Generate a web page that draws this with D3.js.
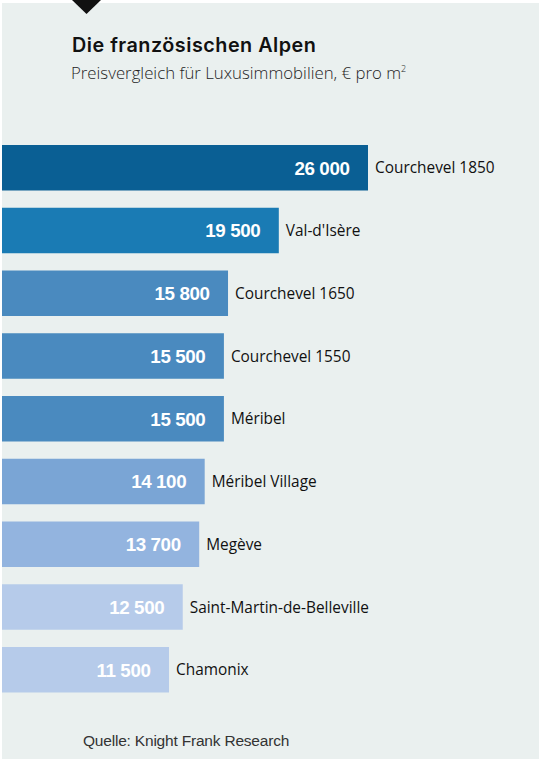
<!DOCTYPE html>
<html><head><meta charset="utf-8">
<script src="https://cdn.jsdelivr.net/npm/d3@7"></script>
<style>
html,body{margin:0;padding:0;background:#fff;}
svg{display:block;}
</style></head>
<body>
<script>
const categories = ["Courchevel 1850","Val-d'Isère","Courchevel 1650","Courchevel 1550","Méribel","Méribel Village","Megève","Saint-Martin-de-Belleville","Chamonix"];
const values = [26000,19500,15800,15500,15500,14100,13700,12500,11500];
const barColors = ["#0a5f94","#1a7bb4","#4a8abf","#4a8abf","#4a8abf","#7aa5d5","#93b4df","#b6cbea","#b6cbea"];
const title = "Die französischen Alpen";
const subtitle = "Preisvergleich für Luxusimmobilien, € pro m";
const source = "Quelle: Knight Frank Research";

const W = 543, H = 762;
const svg = d3.select("body").append("svg").attr("width", W).attr("height", H);

svg.append("rect").attr("x",2).attr("y",3).attr("width",537).attr("height",756).attr("fill","#eaf0ef");
svg.append("path").attr("d","M72,0 L101,0 L86.5,14 Z").attr("fill","#111");

svg.append("text").attr("x",72).attr("y",52).attr("font-family","Inter, 'Liberation Sans', sans-serif")
  .attr("font-weight",600).attr("font-size",19.8).attr("letter-spacing",0.5).attr("fill","#111").text(title);
const st = svg.append("text").attr("x",71).attr("y",79).attr("font-family","'Open Sans', 'DejaVu Sans', sans-serif")
  .attr("font-weight",300).attr("font-size",16.8).attr("fill","#1e1e1e").text(subtitle);
st.append("tspan").attr("dy",-7).attr("font-size",9).text("2");

const x = d3.scaleLinear().domain([0,26000]).range([11.2,368]);
const step = 62.75, bh = 45.5;
const y = d3.scaleBand().domain(categories).range([145, 145 + step*8 + bh]).paddingInner(1 - bh/step).paddingOuter(0);

const g = svg.append("g");
categories.forEach((c,i)=>{
  const v = values[i];
  g.append("rect").attr("x",2).attr("y",y(c)).attr("width",x(v)-2).attr("height",y.bandwidth()).attr("fill",barColors[i]);
  g.append("text").attr("x",x(v)-18.5).attr("y",y(c)+y.bandwidth()/2+6.8).attr("text-anchor","end")
    .attr("font-family","'Liberation Sans', Arial, sans-serif").attr("font-weight","bold").attr("font-size",18.8)
    .attr("fill","#fff").attr("letter-spacing",-0.4).text(d3.format(",")(v).replace(/,/g," "));
  g.append("text").attr("x",x(v)+7).attr("y",y(c)+y.bandwidth()/2+5.5)
    .attr("font-family","'Open Sans', 'DejaVu Sans', sans-serif").attr("font-size",15.4).attr("fill","#111").text(c);
});

svg.append("text").attr("x",83).attr("y",746).attr("font-family","'Liberation Sans', Arial, sans-serif")
  .attr("font-size",15.5).attr("fill","#333").attr("letter-spacing",-0.2).text(source);
</script>
</body></html>
